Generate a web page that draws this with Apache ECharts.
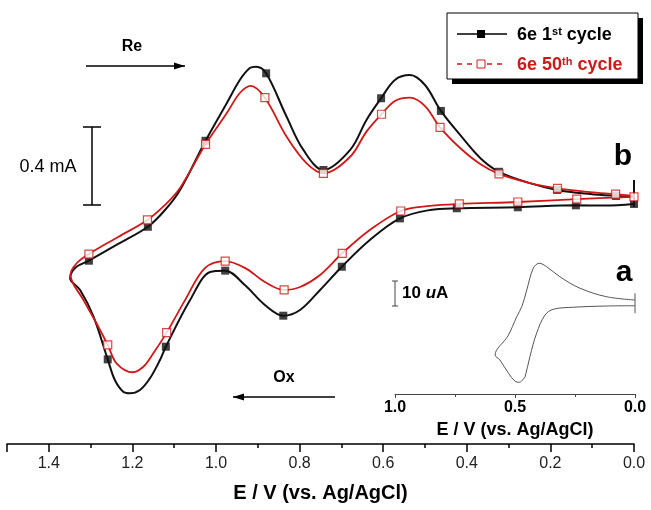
<!DOCTYPE html>
<html><head><meta charset="utf-8">
<script src="https://cdn.jsdelivr.net/npm/echarts@6/dist/echarts.min.js"></script>
<style>html,body{margin:0;padding:0;background:#fff}#c{width:651px;height:510px}</style>
</head><body><div id="c"></div>
<script>
// ---------- data (E in V vs Ag/AgCl, current in mA ; inset current in uA) ----------
var blackOxSweep = [[0,1.231],[0.069,1.223],[0.139,1.224],[0.278,1.214],[0.424,1.209],[0.488,1.200],[0.560,1.157],[0.632,1.046],[0.699,0.909],[0.751,0.790],[0.799,0.687],[0.839,0.658],[0.883,0.713],[0.931,0.815],[0.978,0.889],[1.014,0.882],[1.062,0.738],[1.120,0.499],[1.134,0.431],[1.158,0.337],[1.182,0.277],[1.206,0.260],[1.222,0.268],[1.242,0.328],[1.259,0.434],[1.293,0.653],[1.325,0.790],[1.349,0.850]];
var blackReSweep = [[1.337,0.903],[1.304,0.940],[1.234,1.026],[1.163,1.114],[1.122,1.200],[1.086,1.303],[1.025,1.555],[0.974,1.749],[0.943,1.867],[0.919,1.928],[0.904,1.935],[0.880,1.901],[0.831,1.678],[0.791,1.508],[0.743,1.405],[0.679,1.508],[0.640,1.662],[0.605,1.773],[0.572,1.867],[0.536,1.892],[0.500,1.841],[0.462,1.708],[0.416,1.585],[0.368,1.467],[0.323,1.396],[0.249,1.338],[0.184,1.303],[0.105,1.282],[0.043,1.272],[0,1.267]];
var blackSpike = [[0,1.354],[0,1.215]];
var blackMarkers = [[0,1.231],[0.139,1.224],[0.278,1.214],[0.424,1.209],[0.560,1.157],[0.699,0.909],[0.839,0.658],[0.978,0.889],[1.120,0.499],[1.259,0.434],[1.304,0.940],[1.163,1.114],[1.025,1.555],[0.880,1.901],[0.743,1.405],[0.605,1.773],[0.462,1.708],[0.323,1.396],[0.184,1.303],[0.043,1.272]];
var redOxSweep = [[0,1.267],[0.137,1.256],[0.278,1.241],[0.418,1.231],[0.488,1.221],[0.558,1.195],[0.632,1.097],[0.698,0.978],[0.751,0.867],[0.799,0.805],[0.837,0.790],[0.883,0.831],[0.931,0.903],[0.978,0.938],[1.026,0.903],[1.074,0.738],[1.118,0.571],[1.150,0.465],[1.174,0.396],[1.199,0.368],[1.238,0.414],[1.259,0.508],[1.286,0.619],[1.317,0.738],[1.348,0.867]];
var redReSweep = [[1.335,0.923],[1.304,0.974],[1.234,1.062],[1.164,1.149],[1.122,1.226],[1.086,1.313],[1.025,1.537],[0.974,1.697],[0.943,1.800],[0.917,1.837],[0.883,1.776],[0.831,1.576],[0.783,1.439],[0.743,1.388],[0.679,1.473],[0.640,1.602],[0.604,1.691],[0.572,1.759],[0.536,1.776],[0.500,1.733],[0.464,1.624],[0.416,1.518],[0.368,1.436],[0.323,1.385],[0.249,1.338],[0.183,1.311],[0.105,1.292],[0.044,1.281],[0,1.272]];
var redMarkers = [[0,1.267],[0.137,1.256],[0.278,1.241],[0.418,1.231],[0.558,1.195],[0.698,0.978],[0.837,0.790],[0.978,0.938],[1.118,0.571],[1.259,0.508],[1.304,0.974],[1.164,1.149],[1.025,1.537],[0.883,1.776],[0.743,1.388],[0.604,1.691],[0.464,1.624],[0.323,1.385],[0.183,1.311],[0.044,1.281]];
var insetCurve = [[0,37.6],[0.118,38.9],[0.229,42.3],[0.313,46.9],[0.368,50.9],[0.399,52.3],[0.424,50.3],[0.451,41.6],[0.471,35.1],[0.493,30.9],[0.529,23.3],[0.583,15.6],[0.563,13.6],[0.527,8.3],[0.500,5.1],[0.482,4.7],[0.465,6.0],[0.458,6.9],[0.438,14.9],[0.410,24.3],[0.375,31.6],[0.340,33.9],[0.257,34.7],[0.118,35.2],[0,35.3]];
var insetSpike = [[0,40.3],[0,32.3]];
var mainTickLabels = ['0.0','0.2','0.4','0.6','0.8','1.0','1.2','1.4'];
var insetTickLabels = ['0.0','0.5','1.0'];
var seriesNames = ['6e 1st cycle','6e 50th cycle'];

var FONT = '"Liberation Sans", Arial, sans-serif';
var RED = '#d01818';
var chart = echarts.init(document.getElementById('c'), null, {renderer:'canvas'});

function arrow(x1, x2, y, dir){
  var hx = dir > 0 ? x2 : x1;
  return [
    {type:'line', shape:{x1:x1, y1:y, x2:x2, y2:y}, style:{stroke:'#000', lineWidth:1.3}},
    {type:'polygon', shape:{points:[[hx, y],[hx - dir*11, y-3.5],[hx - dir*11, y+3.5]]}, style:{fill:'#000'}}
  ];
}

var graphics = [];
graphics = graphics.concat(arrow(86, 185, 66, 1));
graphics = graphics.concat(arrow(233, 335, 397, -1));
graphics.push(
  {type:'text', x:132, y:47, style:{text:'Re', font:'bold 16px '+FONT, fill:'#000', align:'center', verticalAlign:'middle'}},
  {type:'text', x:284, y:378, style:{text:'Ox', font:'bold 16px '+FONT, fill:'#000', align:'center', verticalAlign:'middle'}},
  {type:'text', x:48, y:167, style:{text:'0.4 mA', font:'18px '+FONT, fill:'#000', align:'center', verticalAlign:'middle'}},
  {type:'line', shape:{x1:92, y1:127, x2:92, y2:205}, style:{stroke:'#000', lineWidth:1.5}},
  {type:'line', shape:{x1:83, y1:127, x2:101, y2:127}, style:{stroke:'#000', lineWidth:1.5}},
  {type:'line', shape:{x1:83, y1:205, x2:101, y2:205}, style:{stroke:'#000', lineWidth:1.5}},
  {type:'text', x:623, y:157, style:{text:'b', font:'bold 30px '+FONT, fill:'#000', align:'center', verticalAlign:'middle'}},
  {type:'text', x:624, y:273, style:{text:'a', font:'bold 30px '+FONT, fill:'#000', align:'center', verticalAlign:'middle'}},
  {type:'line', shape:{x1:395, y1:281, x2:395, y2:306}, style:{stroke:'#444', lineWidth:1}},
  {type:'line', shape:{x1:392, y1:281, x2:398, y2:281}, style:{stroke:'#444', lineWidth:1}},
  {type:'line', shape:{x1:392, y1:306, x2:398, y2:306}, style:{stroke:'#444', lineWidth:1}},
  {type:'text', x:402, y:293, style:{text:'{b|10 }{i|u}{b|A}', rich:{b:{font:'bold 17px '+FONT, fill:'#000'}, i:{font:'italic bold 17px '+FONT, fill:'#000'}}, verticalAlign:'middle'}},
  // legend
  {type:'rect', shape:{x:452, y:18, width:191, height:66}, style:{fill:'#000'}},
  {type:'rect', shape:{x:447, y:13, width:191, height:66}, style:{fill:'#fff', stroke:'#000', lineWidth:1}},
  {type:'line', shape:{x1:457, y1:34, x2:507, y2:34}, style:{stroke:'#000', lineWidth:1.5}},
  {type:'rect', shape:{x:477, y:30, width:8, height:8}, style:{fill:'#000'}},
  {type:'text', x:517, y:35, style:{text:'{n|6e 1}{s|st}{n| cycle}', rich:{n:{font:'bold 18px '+FONT, fill:'#000', verticalAlign:'bottom'}, s:{font:'bold 11px '+FONT, fill:'#000', verticalAlign:'top'}}, verticalAlign:'middle'}},
  {type:'line', shape:{x1:457, y1:64, x2:507, y2:64}, style:{stroke:RED, lineWidth:1.5, lineDash:[5,5]}},
  {type:'rect', shape:{x:477, y:60, width:8, height:8}, style:{fill:'#fff', stroke:RED, lineWidth:1}},
  {type:'text', x:517, y:65, style:{text:'{n|6e 50}{s|th}{n| cycle}', rich:{n:{font:'bold 18px '+FONT, fill:RED, verticalAlign:'bottom'}, s:{font:'bold 11px '+FONT, fill:RED, verticalAlign:'top'}}, verticalAlign:'middle'}}
);

var option = {
  animation:false,
  backgroundColor:'#fff',
  grid:[
    {left:7, right:17, top:15, bottom:66},
    {left:395, right:16, top:244, bottom:116}
  ],
  xAxis:[
    {type:'value', gridIndex:0, min:0, max:1.5, inverse:true, interval:0.2,
     name:'E / V (vs. Ag/AgCl)', nameLocation:'middle', nameGap:39,
     nameTextStyle:{fontFamily:FONT, fontSize:20, fontWeight:'bold', color:'#000'},
     axisLine:{lineStyle:{color:'#000', width:1.5}},
     axisTick:{length:8, lineStyle:{color:'#000', width:1.5}},
     minorTick:{show:true, splitNumber:2, length:4, lineStyle:{color:'#000', width:1.5}},
     splitLine:{show:false},
     axisLabel:{margin:12, fontFamily:FONT, fontSize:16, color:'#222', showMaxLabel:false,
       formatter:function(v){ var i = Math.round(v/0.2); return mainTickLabels[i] || ''; }}},
    {type:'value', gridIndex:1, min:0, max:1, inverse:true, interval:0.5,
     name:'E / V (vs. Ag/AgCl)', nameLocation:'middle', nameGap:27,
     nameTextStyle:{fontFamily:FONT, fontSize:18, fontWeight:'bold', color:'#000'},
     axisLine:{lineStyle:{color:'#444', width:1}},
     axisTick:{length:4, lineStyle:{color:'#444', width:1}},
     minorTick:{show:true, splitNumber:2, length:3, lineStyle:{color:'#444', width:1}},
     splitLine:{show:false},
     axisLabel:{margin:6, fontFamily:FONT, fontSize:16, fontWeight:'bold', color:'#000',
       formatter:function(v){ var i = Math.round(v/0.5); return insetTickLabels[i] || ''; }}}
  ],
  yAxis:[
    {type:'value', gridIndex:0, min:0, max:2.2, show:false},
    {type:'value', gridIndex:1, min:0, max:60, show:false}
  ],
  series:[
    {name:seriesNames[0], type:'line', xAxisIndex:0, yAxisIndex:0, data:blackOxSweep.concat(blackReSweep), smooth:0.35, showSymbol:false, lineStyle:{color:'#111', width:2}, z:2},
    {type:'line', xAxisIndex:0, yAxisIndex:0, data:blackSpike, showSymbol:false, lineStyle:{color:'#111', width:2}, z:2},
    {type:'scatter', xAxisIndex:0, yAxisIndex:0, data:blackMarkers, symbol:'rect', symbolSize:8, itemStyle:{color:'#111'}, z:3},
    {name:seriesNames[1], type:'line', xAxisIndex:0, yAxisIndex:0, data:redOxSweep.concat(redReSweep), smooth:0.35, showSymbol:false, lineStyle:{color:RED, width:1.8}, z:4},
    {type:'scatter', xAxisIndex:0, yAxisIndex:0, data:redMarkers, symbol:'rect', symbolSize:8, itemStyle:{color:'#fff', borderColor:RED, borderWidth:1.2}, z:5},
    {type:'line', xAxisIndex:1, yAxisIndex:1, data:insetCurve, smooth:0.35, showSymbol:false, clip:false, lineStyle:{color:'#555', width:1}},
    {type:'line', xAxisIndex:1, yAxisIndex:1, data:insetSpike, showSymbol:false, clip:false, lineStyle:{color:'#555', width:1}}
  ],
  graphic:graphics
};
chart.setOption(option);
</script>
</body></html>
